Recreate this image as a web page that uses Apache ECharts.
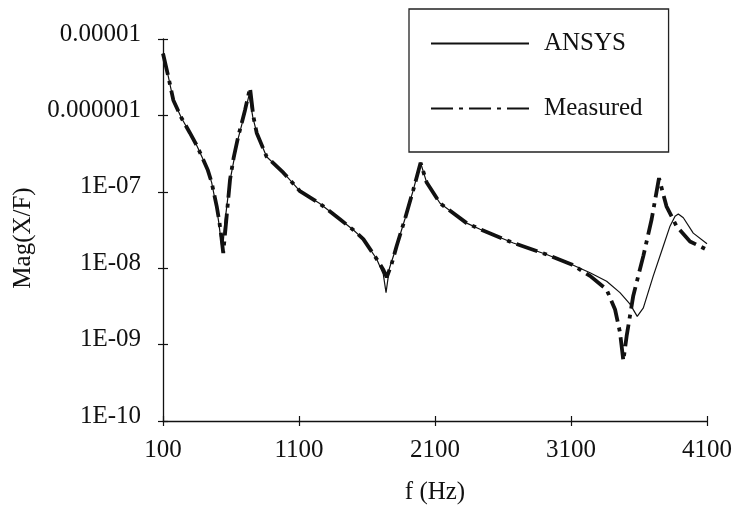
<!DOCTYPE html>
<html>
<head>
<meta charset="utf-8">
<script src="https://cdn.jsdelivr.net/npm/echarts@6/dist/echarts.min.js"></script>
<style>
html,body{margin:0;padding:0;background:#fff;}
#chart{width:736px;height:514px;}
</style>
</head>
<body>
<div id="chart"></div>
<script>
// ---- data ----
var measuredFreq = [100,140,176,235,298,350,396,430,458,495,515,530,543,568,593,620,654,703,740,764,789,862,985,1107,1250,1401,1500,1573,1671,1720,1745,1780,1818,1880,1941,1994,2039,2137,2333,2431,2676,2921,3105,3240,3362,3424,3460,3485,3509,3558,3632,3693,3747,3802,3876,3975,4100];
var measuredMag = [6.46e-6,3.16e-6,1.58e-6,9.33e-7,5.89e-7,3.98e-7,2.63e-7,1.91e-7,1.32e-7,6.46e-8,3.98e-8,2.51e-8,1.58e-8,4.79e-8,1.45e-7,2.82e-7,5.37e-7,1.17e-6,2.29e-6,9.77e-7,5.89e-7,2.88e-7,1.78e-7,1.02e-7,7.08e-8,4.37e-8,3.16e-8,2.40e-8,1.32e-8,9.55e-9,7.59e-9,1.12e-8,1.95e-8,4.47e-8,1.07e-7,2.40e-7,1.32e-7,7.08e-8,3.89e-8,3.24e-8,2.14e-8,1.51e-8,1.12e-8,7.94e-9,5.25e-9,2.88e-9,1.45e-9,6.17e-10,1.29e-9,4.37e-9,1.45e-8,4.37e-8,1.51e-7,6.46e-8,3.55e-8,2.24e-8,1.74e-8];

var ansysFreq = [100,140,176,235,298,350,396,430,458,490,510,525,537,555,590,650,700,733,760,789,862,985,1107,1250,1401,1500,1573,1671,1720,1740,1765,1818,1880,1941,1994,2039,2137,2333,2431,2676,2921,3105,3240,3362,3460,3534,3587,3632,3705,3779,3828,3865,3889,3926,3999,4100];
var ansysMag = [6.46e-6,3.16e-6,1.58e-6,9.33e-7,5.89e-7,3.98e-7,2.63e-7,1.91e-7,1.32e-7,6.76e-8,3.98e-8,2.40e-8,1.66e-8,3.98e-8,1.32e-7,4.79e-7,1.05e-6,1.86e-6,9.55e-7,5.89e-7,2.88e-7,1.78e-7,1.02e-7,7.08e-8,4.37e-8,3.16e-8,2.40e-8,1.32e-8,8.32e-9,4.79e-9,1.00e-8,1.95e-8,4.47e-8,1.07e-7,2.40e-7,1.32e-7,7.08e-8,3.89e-8,3.24e-8,2.14e-8,1.51e-8,1.12e-8,8.71e-9,6.76e-9,4.79e-9,3.39e-9,2.34e-9,3.02e-9,7.94e-9,1.95e-8,3.55e-8,4.79e-8,5.13e-8,4.57e-8,2.88e-8,2.09e-8];

var xTicks = [100,1100,2100,3100,4100];
var yTicks = [1e-10,1e-9,1e-8,1e-7,1e-6,1e-5];
var yTickLabels = ['1E-10','1E-09','1E-08','1E-07','0.000001','0.00001'];
var seriesNames = ['ANSYS','Measured'];

function pairs(xs, ys){ return xs.map(function(x,i){ return [x, ys[i]]; }); }

var FONT = '"Liberation Serif","Times New Roman",serif';
var FS = 25;
var chart = echarts.init(document.getElementById('chart'), null, {renderer:'canvas'});
var axisLine = {show:true, lineStyle:{color:'#111', width:1.3}};

chart.setOption({
  animation:false,
  backgroundColor:'#fff',
  grid:{left:163, right:29, top:39, bottom:93, containLabel:false},
  legend:{
    data:seriesNames,
    orient:'vertical',
    left:409, top:9,
    padding:[22,26,31,21],
    itemWidth:98, itemHeight:24, itemGap:40,
    itemStyle:{opacity:0},
    borderColor:'#222', borderWidth:1.3,
    textStyle:{fontFamily:FONT, fontSize:FS, color:'#111', padding:[0,0,0,10]}
  },
  xAxis:[{
    type:'value', min:100, max:4100,
    name:'f (Hz)', nameLocation:'middle', nameGap:59,
    nameTextStyle:{fontFamily:FONT, fontSize:FS, color:'#111'},
    axisLine:axisLine,
    axisTick:{show:true, length:5, customValues:xTicks, lineStyle:{color:'#111', width:1.2}},
    axisLabel:{customValues:xTicks, margin:17, fontFamily:FONT, fontSize:FS, color:'#111',
      formatter:function(v){ return String(v); }},
    splitLine:{show:false}
  },{
    type:'value', min:100, max:4100, position:'bottom',
    axisLine:{show:false},
    axisTick:{show:true, inside:true, length:5, customValues:xTicks, lineStyle:{color:'#111', width:1.2}},
    axisLabel:{show:false},
    splitLine:{show:false}
  }],
  yAxis:[{
    type:'log', logBase:10, min:1e-10, max:1e-5,
    name:'Mag(X/F)', nameLocation:'middle', nameGap:126, nameRotate:90,
    nameTextStyle:{fontFamily:FONT, fontSize:FS, color:'#111', padding:[0,16,0,0]},
    axisLine:axisLine,
    axisTick:{show:true, length:5, customValues:yTicks, lineStyle:{color:'#111', width:1.2}},
    axisLabel:{customValues:yTicks, margin:22, fontFamily:FONT, fontSize:FS, color:'#111',
      verticalAlign:'bottom', lineHeight:10,
      formatter:function(v){ return yTickLabels[Math.round(Math.log10(v))+10]; }},
    splitLine:{show:false}
  },{
    type:'log', logBase:10, min:1e-10, max:1e-5, position:'left',
    axisLine:{show:false},
    axisTick:{show:true, inside:true, length:5, customValues:yTicks, lineStyle:{color:'#111', width:1.2}},
    axisLabel:{show:false},
    splitLine:{show:false}
  }],
  series:[{
    name:seriesNames[0], type:'line', symbol:'none',
    data:pairs(ansysFreq, ansysMag),
    lineStyle:{color:'#111', width:1.2, type:'solid'},
    itemStyle:{color:'#111'}, z:2
  },{
    name:seriesNames[1], type:'line', symbol:'none',
    data:pairs(measuredFreq, measuredMag),
    lineStyle:{color:'#111', width:3.8, type:[22,6,4,6], cap:'butt'},
    itemStyle:{color:'#111'}, z:3
  }]
});
</script>
</body>
</html>
